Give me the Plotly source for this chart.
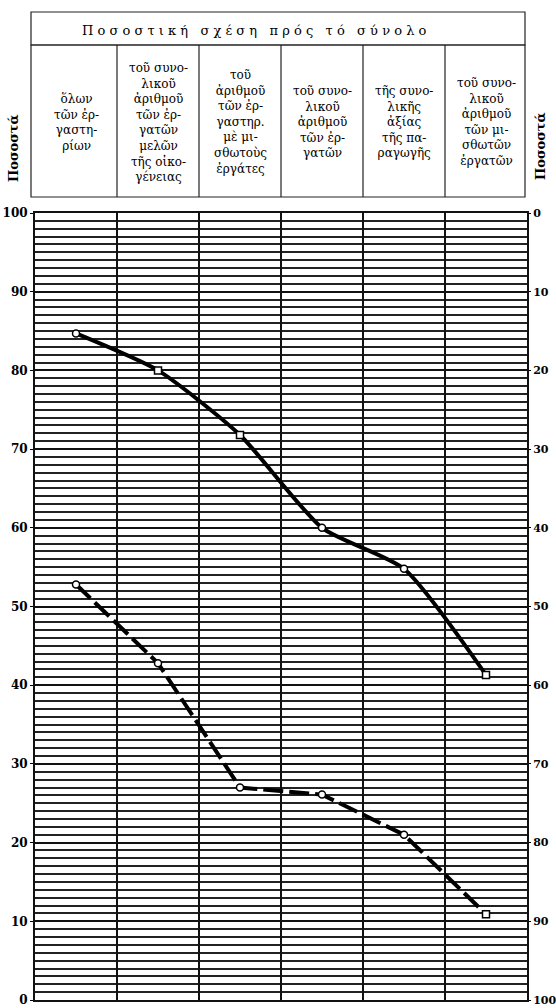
import plotly.graph_objects as go

# ---- data ----
title_text = "Ποσοστική σχέση πρός τό σύνολο"
categories = [
    "ὅλων<br>τῶν ἐρ-<br>γαστη-<br>ρίων",
    "τοῦ συνο-<br>λικοῦ<br>ἀριθμοῦ<br>τῶν ἐρ-<br>γατῶν<br>μελῶν<br>τῆς οἰκο-<br>γένειας",
    "τοῦ<br>ἀριθμοῦ<br>τῶν ἐρ-<br>γαστηρ.<br>μὲ μι-<br>σθωτοὺς<br>ἐργάτες",
    "τοῦ συνο-<br>λικοῦ<br>ἀριθμοῦ<br>τῶν ἐρ-<br>γατῶν",
    "τῆς συνο-<br>λικῆς<br>ἀξίας<br>τῆς πα-<br>ραγωγῆς",
    "τοῦ συνο-<br>λικοῦ<br>ἀριθμοῦ<br>τῶν μι-<br>σθωτῶν<br>ἐργατῶν",
]
solid_values = [84.7, 80.0, 71.8, 60.0, 54.8, 41.3]
dashed_values = [52.8, 42.8, 27.0, 26.1, 21.0, 10.9]
left_ticks = [0, 10, 20, 30, 40, 50, 60, 70, 80, 90, 100]
right_ticks = [0, 10, 20, 30, 40, 50, 60, 70, 80, 90, 100]
axis_title = "Ποσοστά"

# ---- geometry helpers ----
W, H = 556, 1008
ML, MR, MT, MB = 35, 29, 213, 8
PW = W - ML - MR
PH = H - MT - MB


def px_x(px):
    return (px - ML) / PW


def px_y(py):
    return (H - MB - py) / PH


n = len(categories)
xpos = [i + 0.5 for i in range(n)]
SERIF = "DejaVu Serif"

fig = go.Figure()

solid_symbols = ["circle"] + ["square"] * 2 + ["circle"] * 2 + ["square"]
dashed_symbols = ["circle"] * 5 + ["square"]

fig.add_trace(go.Scatter(
    x=xpos, y=solid_values, mode="lines+markers",
    line=dict(color="black", width=4, shape="spline", smoothing=0.6),
    marker=dict(symbol=solid_symbols, size=7, color="white",
                line=dict(color="black", width=1.5)),
    showlegend=False, hoverinfo="skip",
))
fig.add_trace(go.Scatter(
    x=xpos, y=dashed_values, mode="lines+markers",
    line=dict(color="black", width=4, dash="20px,6px"),
    marker=dict(symbol=dashed_symbols, size=7, color="white",
                line=dict(color="black", width=1.5)),
    showlegend=False, hoverinfo="skip",
))
# dummy trace to activate the right-hand axis
fig.add_trace(go.Scatter(x=[None], y=[None], yaxis="y2", showlegend=False, hoverinfo="skip"))

shapes = []
line_style = dict(color="#222", width=1.2)
# title box
shapes.append(dict(type="rect", xref="paper", yref="paper",
                   x0=px_x(31), x1=px_x(525), y0=px_y(45), y1=px_y(12), line=line_style))
# header cell box
shapes.append(dict(type="rect", xref="paper", yref="paper",
                   x0=px_x(31), x1=px_x(525), y0=px_y(197), y1=px_y(45), line=line_style))
for i in range(1, n):
    xp = i / n
    shapes.append(dict(type="line", xref="paper", yref="paper",
                       x0=xp, x1=xp, y0=px_y(197), y1=px_y(45), line=line_style))

annotations = []
spaced = "   ".join(" ".join(list(w)) for w in title_text.split(" "))
annotations.append(dict(text=spaced, xref="paper", yref="paper", x=px_x(254), y=px_y(30),
                        showarrow=False, xanchor="center", yanchor="middle",
                        font=dict(family=SERIF, size=13, color="black")))
for i, c in enumerate(categories):
    annotations.append(dict(text=c, xref="paper", yref="paper", x=(i + 0.5) / n, y=px_y(122),
                            showarrow=False, xanchor="center", yanchor="middle",
                            font=dict(family=SERIF, size=12, color="black")))
annotations.append(dict(text="<b>" + axis_title + "</b>", xref="paper", yref="paper",
                        x=px_x(14), y=px_y(148), textangle=-90, showarrow=False,
                        xanchor="center", yanchor="middle",
                        font=dict(family=SERIF, size=13, color="black")))
annotations.append(dict(text="<b>" + axis_title + "</b>", xref="paper", yref="paper",
                        x=px_x(540), y=px_y(146), textangle=-90, showarrow=False,
                        xanchor="center", yanchor="middle",
                        font=dict(family=SERIF, size=13, color="black")))

grid_color = "#111"
tick_font = dict(family=SERIF, size=12, color="black")
right_tick_font = dict(family=SERIF, size=11, color="black")
fig.update_layout(
    width=W, height=H,
    margin=dict(l=ML, r=MR, t=MT, b=MB, autoexpand=False),
    paper_bgcolor="white", plot_bgcolor="white",
    shapes=shapes, annotations=annotations,
    xaxis=dict(range=[0, n], tickvals=list(range(n + 1)), showticklabels=False,
               automargin=False,
               showgrid=True, gridcolor=grid_color, gridwidth=2, zeroline=False,
               showline=True, linecolor=grid_color, linewidth=2, mirror=True, ticks=""),
    yaxis=dict(range=[0, 100], tickvals=left_ticks,
               ticktext=["<b>%d</b>" % v for v in left_ticks],
               tickfont=tick_font, automargin=False, ticklabeloverflow="allow",
               ticks="outside", ticklen=3, tickcolor="black",
               showgrid=True, gridcolor=grid_color, gridwidth=2.2, zeroline=False,
               showline=True, linecolor=grid_color, linewidth=2,
               minor=dict(dtick=1, showgrid=True, gridcolor="#222", gridwidth=1.6)),
    yaxis2=dict(range=[100, 0], overlaying="y", side="right", tickvals=right_ticks,
                ticktext=["<b>%d</b>" % v for v in right_ticks],
                tickfont=right_tick_font, automargin=False, ticklabeloverflow="allow",
                ticks="outside", ticklen=2, tickcolor="black",
                showgrid=False, zeroline=False, showline=True,
                linecolor=grid_color, linewidth=2),
)

fig.write_html("out.html", config={"displayModeBar": False},
               post_script="document.body.style.margin='0';document.body.style.overflow='hidden';")
